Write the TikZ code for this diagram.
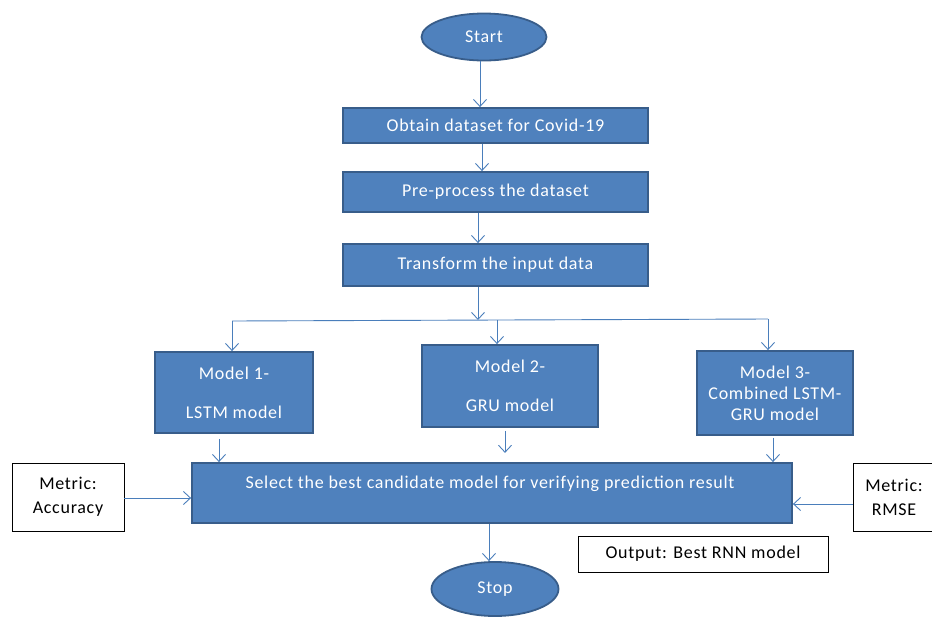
\documentclass[tikz,border=0pt]{standalone}
\usepackage{fontspec}
\setmainfont{Carlito}[LetterSpace=4]
\usetikzlibrary{arrows.meta,shapes.geometric}
\definecolor{boxblue}{HTML}{4F81BD}
\definecolor{boxedge}{HTML}{385D8A}
\definecolor{arrowblue}{HTML}{4A7EBB}
\begin{document}
\begin{tikzpicture}[x=1pt,y=-1pt,
  bluebox/.style={draw=boxedge, line width=1.8pt, fill=boxblue, text=white,
    font=\fontsize{18}{21}\selectfont, inner sep=0pt, align=center},
  whitebox/.style={draw=black, line width=0.8pt, fill=white, text=black,
    font=\fontsize{18}{24}\selectfont, inner sep=0pt, align=center},
  arr/.style={draw=arrowblue, line width=0.9pt, -{Straight Barb[length=7pt,width=13pt]}},
  conn/.style={draw=arrowblue, line width=0.9pt}]
\useasboundingbox (0,0) rectangle (932,616);

\node[ellipse, bluebox, minimum width=125, minimum height=47] (start) at (484,37) {Start};
\node[rectangle, bluebox, minimum width=305, minimum height=35] (obtain) at (495.5,125.5) {Obtain dataset for Covid-19};
\node[rectangle, bluebox, minimum width=305, minimum height=40] (pre) at (495.5,192) {Pre-process the dataset};
\node[rectangle, bluebox, minimum width=305, minimum height=42] (trans) at (495.5,265) {Transform the input data};

\node[rectangle, bluebox, minimum width=158, minimum height=81] (m1) at (234,392.5) {Model 1-\\[18pt]LSTM model};
\node[rectangle, bluebox, minimum width=176, minimum height=82] (m2) at (510,386) {Model 2-\\[18pt]GRU model};
\node[rectangle, bluebox, minimum width=156, minimum height=84] (m3) at (775,393) {Model 3-\\Combined LSTM-\\GRU model};

\node[rectangle, bluebox, minimum width=600, minimum height=60] (sel) at (492,493) {};
\node[text=white, font=\fontsize{18}{21}\selectfont, inner sep=0pt] (selt) at (490,484) {Select the best candidate model for verifying prediction result};

\node[rectangle, whitebox, minimum width=112, minimum height=68] (acc) at (68,497) {Metric:\\Accuracy};
\node[rectangle, whitebox, minimum width=82, minimum height=68] (rmse) at (894,497) {Metric:\\RMSE};
\node[rectangle, whitebox, minimum width=250, minimum height=36] (out) at (703,554) {Output: Best RNN model};

\node[ellipse, bluebox, minimum width=127, minimum height=54] (stop) at (495,589) {Stop};

% vertical flow
\draw[arr] ([xshift=-4pt]start.south) -- ([xshift=-4pt]start.south |- obtain.north);
\draw[arr] ([xshift=-13.5pt]obtain.south) -- ([xshift=-13.5pt]obtain.south |- pre.north);
\draw[arr] ([xshift=-17.5pt]pre.south) -- ([xshift=-17.5pt]pre.south |- trans.north);

% split
\coordinate (hl) at (232,321);
\coordinate (hr) at (768,319);
\coordinate (hm) at (497,320);
\draw[arr] ([xshift=-17.5pt]trans.south) -- ([xshift=-17.5pt]trans.south |- hm);
\draw[conn] (hl) -- (hr);
\draw[arr] (hl) -- (hl |- m1.north);
\draw[arr] (hm) -- (hm |- m2.north);
\draw[arr] (hr) -- (hr |- m3.north);

% models to select
\draw[arr] ([xshift=-15pt,yshift=-5pt]m1.south) -- ([xshift=-15pt]m1.south |- sel.north);
\draw[arr] ([xshift=-5pt,yshift=-3pt]m2.south) -- ([xshift=-5pt,yshift=-25pt]m2.south);
\draw[arr] ([xshift=-2pt,yshift=-2pt]m3.south) -- ([xshift=-2pt]m3.south |- sel.north);

% metrics
\draw[arr] ([yshift=-1pt]acc.east) -- ([yshift=-1pt]acc.east -| sel.west);
\draw[arr] ([yshift=-7pt]rmse.west) -- ([yshift=-7pt]rmse.west -| sel.east);

% to stop
\draw[arr] ([xshift=-3pt]sel.south) -- ([xshift=-3pt]sel.south |- stop.north);
\end{tikzpicture}
\end{document}
